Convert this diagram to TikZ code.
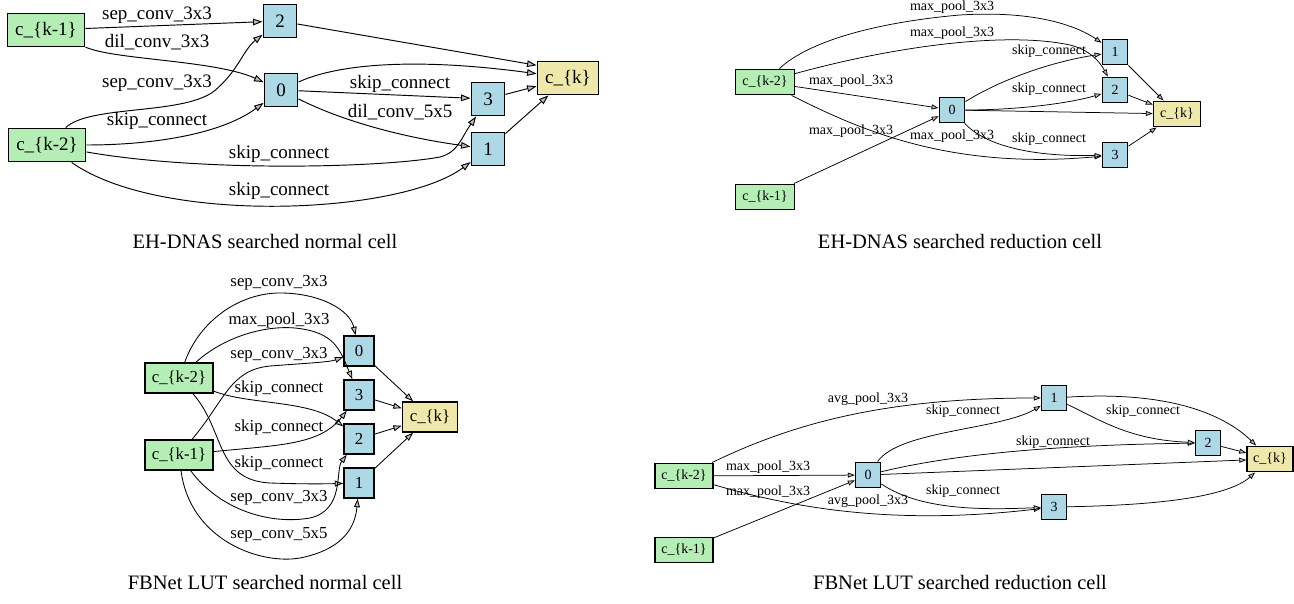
\documentclass[tikz,border=0pt]{standalone}
\usepackage{fontspec}
\setmainfont{Liberation Serif}
\usetikzlibrary{arrows.meta}
\definecolor{dsg}{HTML}{B4EEB4}
\definecolor{lbl}{HTML}{ADD8E6}
\definecolor{pgd}{HTML}{EEE8AA}
\definecolor{agr}{HTML}{BEBEBE}
\tikzset{
  cellnode/.style={draw=black, inner sep=0pt, text=black, rectangle},
  inn/.style={cellnode, fill=dsg},
  midn/.style={cellnode, fill=lbl},
  outn/.style={cellnode, fill=pgd},
  fA/.style={font=\fontsize{19}{21}\selectfont},
  fB/.style={font=\fontsize{14}{16}\selectfont},
  fC/.style={font=\fontsize{16.8}{19}\selectfont},
  captext/.style={font=\fontsize{20.5}{23}\selectfont, inner sep=0pt},
  nA/.style={fA, line width=1.9pt, minimum height=33pt},
  nB/.style={fB, line width=1.4pt, minimum height=25.5pt},
  nC/.style={fC, line width=1.6pt, minimum height=30pt},
  eA/.style={line width=0.95pt, -{Triangle[length=9.5pt,width=6.6pt,fill=agr]}},
  eB/.style={line width=0.75pt, -{Triangle[length=7pt,width=5pt,fill=agr]}},
  eC/.style={line width=0.85pt, -{Triangle[length=8.4pt,width=5.9pt,fill=agr]}},
  lA/.style={fA, inner sep=0pt},
  lB/.style={fB, inner sep=0pt},
  lC/.style={fC, inner sep=0pt},
}
\begin{document}
\begin{tikzpicture}[x=1pt, y=-1pt]
\useasboundingbox[fill=white] (0,0) rectangle (1294,604);

% ---------------- Panel 1: EH-DNAS normal ----------------
\node[inn, nA, minimum width=77pt] (p1a) at (46,30) {c\_\{k-1\}};
\node[inn, nA, minimum width=77pt] (p1b) at (47,145) {c\_\{k-2\}};
\node[midn, nA, minimum width=33pt] (p1n2) at (280,21) {2};
\node[midn, nA, minimum width=33pt] (p1n0) at (281,90) {0};
\node[midn, nA, minimum width=33pt] (p1n3) at (488,99) {3};
\node[midn, nA, minimum width=33pt] (p1n1) at (488,149) {1};
\node[outn, nA, minimum width=61pt, minimum height=33pt] (p1k) at (568,78) {c\_\{k\}};

\draw[eA] (p1a) -- (p1n2);
\draw[eA] (p1a) .. controls (115,60) and (215,60) .. (p1n0);
\draw[eA] (p1b) .. controls (90,105) and (180,115) .. (213,92) .. controls (238,72) and (243,50) .. (p1n2);
\draw[eA] (p1b) .. controls (150,145) and (220,135) .. (p1n0);
\draw[eA] (p1b) .. controls (200,172) and (380,168) .. (440,157) .. controls (458,152) and (460,140) .. (p1n3);
\draw[eA] (p1b) .. controls (160,225) and (400,215) .. (p1n1);
\draw[eA] (p1n0) -- (p1n3);
\draw[eA] (p1n0) .. controls (340,120) and (400,137) .. (p1n1);
\draw[eA] (p1n0) .. controls (340,63) and (420,58) .. (p1k);
\draw[eA] (p1n2) -- (p1k.158);
\draw[eA] (p1n3) -- (p1k);
\draw[eA] (p1n1) -- (p1k);

\node[lA] (l1a) at (157,15) {sep\_conv\_3x3};
\node[lA] (l1b) at (157,42) {dil\_conv\_3x3};
\node[lA] (l1c) at (157,83) {sep\_conv\_3x3};
\node[lA] (l1d) at (157,121) {skip\_connect};
\node[lA] (l1e) at (279,154) {skip\_connect};
\node[lA] (l1f) at (279,191) {skip\_connect};
\node[lA] (l1g) at (400,84) {skip\_connect};
\node[lA] (l1h) at (400,112) {dil\_conv\_5x5};

\node[captext] (c1) at (265,241) {EH-DNAS searched normal cell};

% ---------------- Panel 2: EH-DNAS reduction ----------------
\node[inn, nB, minimum width=59pt] (p2b) at (765,82) {c\_\{k-2\}};
\node[inn, nB, minimum width=59pt] (p2a) at (765,197) {c\_\{k-1\}};
\node[midn, nB, minimum width=25.5pt] (p2n0) at (952,110) {0};
\node[midn, nB, minimum width=25.5pt] (p2n1) at (1115,52) {1};
\node[midn, nB, minimum width=25.5pt] (p2n2) at (1115,90) {2};
\node[midn, nB, minimum width=25.5pt] (p2n3) at (1115,155) {3};
\node[outn, nB, minimum width=47pt] (p2k) at (1177,114) {c\_\{k\}};

\draw[eB] (p2b) .. controls (810,40) and (880,22) .. (960,15) .. controls (1040,10) and (1080,28) .. (p2n1);
\draw[eB] (p2b) .. controls (880,50) and (1000,30) .. (1070,45) .. controls (1090,50) and (1100,62) .. (p2n2);
\draw[eB] (p2b) -- (p2n0);
\draw[eB] (p2b) .. controls (860,130) and (950,170) .. (p2n3);
\draw[eB] (p2a) -- (p2n0);
\draw[eB] (p2n0) .. controls (1000,80) and (1050,62) .. (p2n1);
\draw[eB] (p2n0) .. controls (1020,110) and (1070,103) .. (p2n2);
\draw[eB] (p2n0) -- (p2k);
\draw[eB] (p2n0) .. controls (985,145) and (1030,157) .. (p2n3);
\draw[eB] (p2n1) -- (p2k);
\draw[eB] (p2n2) -- (p2k);
\draw[eB] (p2n3) -- (p2k);

\node[lB] (l2a) at (952,7) {max\_pool\_3x3};
\node[lB] (l2b) at (952,33) {max\_pool\_3x3};
\node[lB] (l2c) at (851,81) {max\_pool\_3x3};
\node[lB] (l2d) at (851,131) {max\_pool\_3x3};
\node[lB] (l2e) at (952,136) {max\_pool\_3x3};
\node[lB] (l2f) at (1049,51) {skip\_connect};
\node[lB] (l2g) at (1049,89) {skip\_connect};
\node[lB] (l2h) at (1049,139) {skip\_connect};

\node[captext] (c2) at (960,241) {EH-DNAS searched reduction cell};

% ---------------- Panel 3: FBNet normal ----------------
\node[inn, nC, minimum width=68pt] (p3b) at (179,378) {c\_\{k-2\}};
\node[inn, nC, minimum width=68pt] (p3a) at (179,455) {c\_\{k-1\}};
\node[midn, nC, minimum width=30pt] (p3n0) at (359,351) {0};
\node[midn, nC, minimum width=30pt] (p3n3) at (359,395) {3};
\node[midn, nC, minimum width=30pt] (p3n2) at (359,439) {2};
\node[midn, nC, minimum width=30pt] (p3n1) at (359,483) {1};
\node[outn, nC, minimum width=55pt] (p3k) at (430,417) {c\_\{k\}};

\draw[eC] (p3b) .. controls (200,320) and (240,293) .. (280,293) .. controls (320,293) and (350,310) .. (p3n0);
\draw[eC] (p3b) .. controls (220,340) and (260,325) .. (295,328) .. controls (335,332) and (340,350) .. (p3n3);
\draw[eC] (p3a) .. controls (225,400) and (230,370) .. (270,366) .. controls (310,363) and (330,362) .. (p3n0);
\draw[eC] (p3b) .. controls (250,405) and (310,400) .. (p3n2);
\draw[eC] (p3a) .. controls (280,445) and (320,445) .. (p3n3);
\draw[eC] (p3b) .. controls (225,430) and (215,480) .. (270,483) .. controls (300,484) and (320,484) .. (p3n1);
\draw[eC] (p3a) .. controls (220,510) and (270,525) .. (310,518) .. controls (345,510) and (335,470) .. (p3n2);
\draw[eC] (p3a) .. controls (190,540) and (260,565) .. (300,558) .. controls (340,550) and (355,530) .. (p3n1);
\draw[eC] (p3n0) -- (p3k);
\draw[eC] (p3n3) -- (p3k);
\draw[eC] (p3n2) -- (p3k);
\draw[eC] (p3n1) -- (p3k);

\node[lC] (l3a) at (279,283) {sep\_conv\_3x3};
\node[lC] (l3b) at (279,320) {max\_pool\_3x3};
\node[lC] (l3c) at (279,355) {sep\_conv\_3x3};
\node[lC] (l3d) at (279,388) {skip\_connect};
\node[lC] (l3e) at (279,427) {skip\_connect};
\node[lC] (l3f) at (279,463) {skip\_connect};
\node[lC] (l3g) at (279,498) {sep\_conv\_3x3};
\node[lC] (l3h) at (279,535) {sep\_conv\_5x5};

\node[captext] (c3) at (265,582) {FBNet LUT searched normal cell};

% ---------------- Panel 4: FBNet reduction ----------------
\node[inn, nB, minimum width=58pt] (p4b) at (684,476) {c\_\{k-2\}};
\node[inn, nB, minimum width=58pt] (p4a) at (684,550) {c\_\{k-1\}};
\node[midn, nB, minimum width=25pt] (p4n0) at (868,475) {0};
\node[midn, nB, minimum width=25pt] (p4n1) at (1054,398) {1};
\node[midn, nB, minimum width=25pt] (p4n2) at (1208,443) {2};
\node[midn, nB, minimum width=25pt] (p4n3) at (1054,507) {3};
\node[outn, nB, minimum width=46pt] (p4k) at (1270,459) {c\_\{k\}};

\draw[eB] (p4b) .. controls (790,425) and (880,398) .. (p4n1);
\draw[eB] (p4b) -- (p4n0);
\draw[eB] (p4a) -- (p4n0);
\draw[eB] (p4b) .. controls (800,510) and (900,525) .. (p4n3);
\draw[eB] (p4n0) .. controls (900,430) and (1000,430) .. (p4n1);
\draw[eB] (p4n0) .. controls (950,455) and (1050,445) .. (p4n2);
\draw[eB] (p4n0) -- (p4k);
\draw[eB] (p4n0) .. controls (920,510) and (980,510) .. (p4n3);
\draw[eB] (p4n1) .. controls (1100,420) and (1130,440) .. (p4n2);
\draw[eB] (p4n1) .. controls (1180,390) and (1230,420) .. (p4k);
\draw[eB] (p4n2) -- (p4k);
\draw[eB] (p4n3) .. controls (1170,505) and (1230,495) .. (p4k);

\node[lB] (l4a) at (868,399) {avg\_pool\_3x3};
\node[lB] (l4b) at (768,467) {max\_pool\_3x3};
\node[lB] (l4c) at (768,492) {max\_pool\_3x3};
\node[lB] (l4d) at (868,501) {avg\_pool\_3x3};
\node[lB] (l4e) at (963,411) {skip\_connect};
\node[lB] (l4f) at (1053,442) {skip\_connect};
\node[lB] (l4g) at (963,491) {skip\_connect};
\node[lB] (l4h) at (1143,411) {skip\_connect};

\node[captext] (c4) at (960,582) {FBNet LUT searched reduction cell};
\end{tikzpicture}
\end{document}
